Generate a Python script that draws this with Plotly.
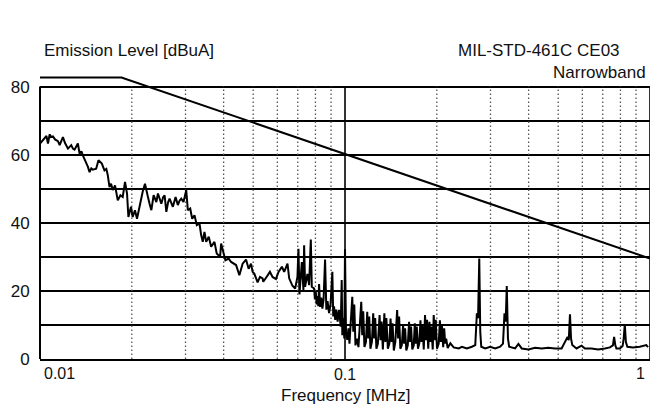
import plotly.graph_objects as go

# ---------------- data ----------------
# Emission trace, 10 kHz - 50 kHz
low_freq_mhz = [
    0.01000, 0.01015, 0.01036, 0.01050, 0.01062, 0.01076, 0.01086, 0.01103, 0.01120, 0.01145,
    0.01160, 0.01176, 0.01189, 0.01207, 0.01235, 0.01266, 0.01282, 0.01298, 0.01316, 0.01331,
    0.01348, 0.01367, 0.01382, 0.01403, 0.01417, 0.01435, 0.01454, 0.01473, 0.01490, 0.01528,
    0.01555, 0.01577, 0.01595, 0.01627, 0.01650, 0.01668, 0.01690, 0.01710, 0.01732, 0.01762,
    0.01778, 0.01799, 0.01835, 0.01867, 0.01900, 0.01929, 0.01949, 0.01968, 0.01988, 0.02013,
    0.02048, 0.02080, 0.02118, 0.02146, 0.02171, 0.02209, 0.02232, 0.02259, 0.02288, 0.02318,
    0.02358, 0.02407, 0.02436, 0.02467, 0.02499, 0.02533, 0.02562, 0.02595, 0.02630, 0.02660,
    0.02690, 0.02727, 0.02783, 0.02831, 0.02868, 0.02905, 0.02955, 0.02989, 0.03016, 0.03053,
    0.03108, 0.03155, 0.03210, 0.03267, 0.03334, 0.03376, 0.03417, 0.03461, 0.03506, 0.03575,
    0.03640, 0.03668, 0.03732, 0.03797, 0.03895, 0.03925, 0.03972, 0.04054, 0.04156, 0.04232,
    0.04394, 0.04504, 0.04617, 0.04737, 0.04831,
]
low_level_dbua = [
    63.3, 64.0, 64.7, 65.5, 63.3, 66.0, 65.2, 65.4, 64.5, 64.0,
    62.8, 64.5, 65.2, 63.5, 61.8, 62.8, 61.8, 61.5, 62.5, 63.3,
    60.3, 61.0, 59.8, 58.5, 57.9, 56.5, 54.9, 56.0, 55.6, 55.9,
    58.4, 57.8, 57.4, 55.4, 55.8, 54.0, 50.5, 51.5, 49.6, 51.0,
    48.5, 46.6, 48.1, 47.6, 52.0, 48.6, 41.7, 43.5, 44.7, 41.7,
    43.7, 41.2, 44.7, 47.0, 49.1, 51.5, 50.0, 47.6, 45.5, 43.7,
    48.1, 46.1, 48.6, 47.0, 45.6, 47.5, 48.1, 43.2, 46.0, 47.1,
    46.0, 44.7, 47.6, 45.2, 46.5, 47.1, 46.1, 48.0, 49.6, 43.7,
    44.2, 41.2, 42.2, 39.3, 39.8, 36.4, 34.4, 37.3, 34.4, 35.9,
    33.0, 33.4, 34.4, 31.0, 30.0, 33.9, 32.0, 29.0, 29.5, 28.5,
    27.6, 24.6, 28.0, 29.2, 26.5,
]

# Emission trace, 50 kHz - 100 kHz
mid_freq_mhz = [
    0.04919, 0.04978, 0.05042, 0.05169, 0.05263, 0.05367, 0.05395, 0.05531, 0.05674, 0.05786,
    0.05936, 0.06054, 0.06211, 0.06319, 0.06478, 0.06561, 0.06726, 0.06864, 0.06984, 0.07037,
    0.07090, 0.07219, 0.07306, 0.07345, 0.07400, 0.07530, 0.07627, 0.07725, 0.07783, 0.07920,
    0.07967, 0.08021, 0.08070, 0.08118, 0.08174, 0.08223, 0.08285, 0.08360, 0.08430, 0.08506,
    0.08603, 0.08687, 0.08766, 0.08866, 0.08966, 0.09089, 0.09150, 0.09206, 0.09289, 0.09366,
    0.09458, 0.09559, 0.09682, 0.09755, 0.09799, 0.09888, 0.09947,
]
mid_level_dbua = [
    28.0, 25.6, 25.1, 22.5, 24.1, 23.7, 22.7, 24.1, 25.6, 24.1,
    23.5, 25.6, 27.1, 25.6, 28.0, 23.7, 21.5, 20.7, 24.1, 32.4,
    19.0, 28.5, 20.2, 33.4, 21.2, 25.0, 21.7, 35.1, 21.2, 20.7,
    17.5, 19.8, 16.0, 18.5, 15.5, 22.0, 15.3, 18.0, 14.8, 17.5,
    29.2, 14.5, 17.0, 13.5, 16.0, 25.6, 12.5, 15.5, 11.5, 14.5,
    11.0, 14.4, 9.5, 23.2, 7.0, 12.0, 6.0,
]

# Emission trace, 100 kHz - 220 kHz (harmonic comb)
comb_freq_mhz = [
    0.10000, 0.10076, 0.10175, 0.10267, 0.10344, 0.10462, 0.10565, 0.10645, 0.10725, 0.10822,
    0.10945, 0.11069, 0.11195, 0.11305, 0.11390, 0.11476, 0.11580, 0.11712, 0.11827, 0.11916,
    0.12006, 0.12115, 0.12253, 0.12373, 0.12467, 0.12561, 0.12675, 0.12819, 0.12984, 0.13082,
    0.13181, 0.13310, 0.13461, 0.13563, 0.13665, 0.13821, 0.13977, 0.14104, 0.14211, 0.14318,
    0.14459, 0.14623, 0.14822, 0.14934, 0.15047, 0.15184, 0.15356, 0.15507, 0.15624, 0.15742,
    0.15885, 0.16065, 0.16223, 0.16346, 0.16469, 0.16619, 0.16807, 0.16935, 0.17063, 0.17192,
    0.17347, 0.17518, 0.17677, 0.17810, 0.17945, 0.18121, 0.18300, 0.18438, 0.18578, 0.18746,
    0.18916, 0.19059, 0.19203, 0.19392, 0.19538, 0.19685, 0.19834, 0.20029, 0.20287, 0.20471,
    0.20625, 0.20781, 0.20985, 0.21144, 0.21304, 0.21465, 0.21708,
]
comb_level_dbua = [
    32.2, 8.0, 5.6, 9.0, 4.5, 12.0, 18.3, 8.0, 16.0, 4.0,
    6.0, 3.5, 10.0, 16.8, 7.0, 14.0, 3.5, 5.0, 13.9, 6.0,
    12.5, 3.0, 5.0, 13.4, 6.0, 12.0, 3.0, 4.5, 12.9, 5.5,
    11.0, 2.8, 13.4, 5.0, 12.0, 3.0, 4.5, 11.9, 5.0, 10.5,
    2.5, 5.0, 14.4, 6.0, 12.5, 3.0, 4.0, 10.0, 4.5, 9.0,
    2.5, 4.0, 10.9, 5.0, 9.5, 2.8, 4.0, 10.5, 4.5, 9.5,
    3.0, 4.5, 11.4, 5.0, 10.0, 2.8, 12.9, 5.5, 11.5, 3.0,
    10.9, 5.0, 9.5, 2.8, 12.9, 5.5, 11.5, 3.0, 4.5, 11.4,
    5.0, 10.0, 3.5, 9.0, 4.5, 6.0, 3.2,
]

# Emission trace, 220 kHz - 1 MHz
high_freq_mhz = [
    0.22153, 0.22710, 0.23581, 0.24173, 0.25100, 0.26063, 0.26738, 0.27062, 0.27307, 0.27555,
    0.27763, 0.27973, 0.28828, 0.29933, 0.31081, 0.32272, 0.32960, 0.33334, 0.33636, 0.33916,
    0.34223, 0.34534, 0.36129, 0.37037, 0.37969, 0.39932, 0.41997, 0.44136, 0.46418, 0.48818,
    0.51304, 0.53673, 0.54160, 0.54651, 0.55105, 0.55605, 0.57434, 0.59636, 0.61181, 0.64297,
    0.67622, 0.71118, 0.73845, 0.75588, 0.76274, 0.76965, 0.77605, 0.79616, 0.81312, 0.81988,
    0.82669, 0.83356, 0.84302, 0.87997, 0.92547, 0.97259, 0.98512,
]
high_level_dbua = [
    4.6, 3.4, 3.1, 3.6, 3.1, 3.6, 4.1, 13.4, 12.0, 29.5,
    8.0, 3.6, 3.1, 3.6, 3.1, 3.6, 4.5, 13.4, 11.0, 21.4,
    6.0, 3.6, 3.1, 4.4, 3.1, 2.8, 3.3, 3.1, 3.3, 3.1,
    3.1, 6.5, 5.5, 13.1, 6.0, 4.1, 3.1, 3.9, 3.1, 3.1,
    2.8, 3.1, 3.4, 4.0, 6.5, 4.0, 3.1, 3.1, 3.8, 6.0,
    10.2, 5.0, 3.6, 3.4, 3.6, 4.1, 3.5,
]

# MIL-STD-461C CE03 narrowband limit
limit_freq_mhz = [0.01, 0.0185, 1.0]
limit_level_dbua = [82.7, 82.7, 29.5]

# axes / grid
y_tick_vals = [0, 10, 20, 30, 40, 50, 60, 70, 80]
y_tick_text = ["0", "", "20", "", "40", "", "60", "", "80"]
minor_grid_freqs = [0.02, 0.03, 0.04, 0.05, 0.06, 0.07, 0.08, 0.09,
                    0.2, 0.3, 0.4, 0.5, 0.6, 0.7, 0.8, 0.9]
major_grid_freqs = [0.1, 1.0]
grid_top = 80

FONT = "Liberation Sans, Arial, sans-serif"

emission_f = low_freq_mhz + mid_freq_mhz + comb_freq_mhz + high_freq_mhz
emission_l = low_level_dbua + mid_level_dbua + comb_level_dbua + high_level_dbua


def vlines(freqs):
    xs, ys = [], []
    for f in freqs:
        xs += [f, f, None]
        ys += [0, grid_top, None]
    return xs, ys


fig = go.Figure()

mx, my = vlines(minor_grid_freqs)
fig.add_trace(go.Scatter(x=mx, y=my, mode="lines", hoverinfo="skip",
                         line=dict(color="#555555", width=1.3, dash="1.5px,2.5px")))
Mx, My = vlines(major_grid_freqs)
fig.add_trace(go.Scatter(x=Mx, y=My, mode="lines", hoverinfo="skip",
                         line=dict(color="black", width=1.6)))

fig.add_trace(go.Scatter(x=limit_freq_mhz, y=limit_level_dbua, mode="lines",
                         line=dict(color="black", width=2)))
fig.add_trace(go.Scatter(x=emission_f, y=emission_l, mode="lines",
                         line=dict(color="black", width=2)))

fig.update_layout(
    width=650, height=405,
    margin=dict(l=40, r=0, t=73, b=46),
    paper_bgcolor="white", plot_bgcolor="white",
    showlegend=False,
    font=dict(family=FONT, size=16, color="#111111"),
    xaxis=dict(type="log", range=[-2, 0], showgrid=False, zeroline=False,
               showline=True, linecolor="black", linewidth=2,
               tickvals=[0.1], ticktext=["0.1"], ticks="",
               tickfont=dict(size=16)),
    yaxis=dict(range=[0, 84], tickvals=y_tick_vals, ticktext=y_tick_text,
               showgrid=True, gridcolor="black", gridwidth=2, zeroline=False,
               showline=False, ticks="outside", ticklen=6,
               tickcolor="rgba(0,0,0,0)", tickfont=dict(size=17)),
    shapes=[dict(type="line", xref="paper", yref="y", x0=0, x1=0, y0=0, y1=grid_top,
                 line=dict(color="black", width=2))],
    annotations=[
        dict(text="Emission Level [dBuA]", xref="paper", yref="paper", x=0.003, y=1.08,
             xanchor="left", yanchor="middle", showarrow=False, font=dict(size=17)),
        dict(text="MIL-STD-461C CE03", xref="paper", yref="paper", x=0.954, y=1.08,
             xanchor="right", yanchor="middle", showarrow=False, font=dict(size=17)),
        dict(text="Narrowband", xref="paper", yref="paper", x=0.997, y=1.001,
             xanchor="right", yanchor="middle", showarrow=False, font=dict(size=17)),
        dict(text="Frequency [MHz]", xref="paper", yref="paper", x=0.5016, y=-0.128,
             xanchor="center", yanchor="middle", showarrow=False, font=dict(size=17)),
        dict(text="0.01", xref="paper", yref="paper", x=0.003, y=-0.05,
             xanchor="left", yanchor="middle", showarrow=False, font=dict(size=16)),
        dict(text="1", xref="paper", yref="paper", x=0.995, y=-0.05,
             xanchor="right", yanchor="middle", showarrow=False, font=dict(size=16)),
    ],
)

# remove the default page margin so the 650x405 figure fills the window exactly
page_fix = ("document.body.style.margin='0';"
            "document.body.style.overflow='hidden';"
            "document.documentElement.style.overflow='hidden';")
fig.write_html("out.html", post_script=page_fix, config={"displayModeBar": False})
